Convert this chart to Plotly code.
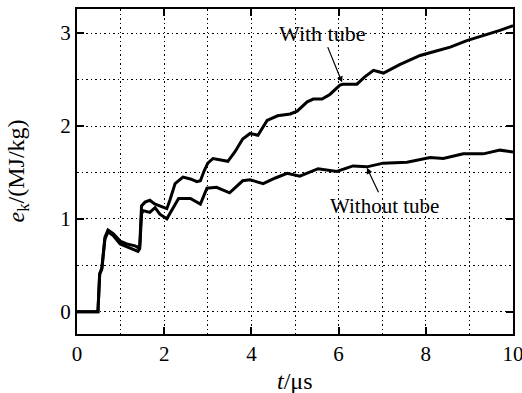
import plotly.graph_objects as go

# Time (µs) and kinetic energy (MJ/kg)
t_with = [0, 0.48, 0.50, 0.52, 0.57, 0.64, 0.71, 0.83, 0.99, 1.14, 1.33, 1.40, 1.44, 1.48,
          1.56, 1.67, 1.78, 1.90, 2.06, 2.13, 2.25, 2.43, 2.60, 2.75, 2.83, 2.92, 3.00, 3.12,
          3.30, 3.46, 3.62, 3.80, 3.97, 4.15, 4.36, 4.60, 4.89, 5.05, 5.28, 5.42, 5.62,
          5.80, 6.03, 6.10, 6.42, 6.60, 6.80, 7.03, 7.40, 7.87, 8.26, 8.56, 8.94, 9.31,
          9.70, 10.0]
e_with = [0, 0, 0.20, 0.41, 0.47, 0.80, 0.88, 0.84, 0.76, 0.73, 0.71, 0.69, 0.72, 1.14,
          1.18, 1.20, 1.16, 1.14, 1.11, 1.20, 1.38, 1.45, 1.43, 1.40, 1.41, 1.52, 1.60, 1.65,
          1.63, 1.62, 1.72, 1.86, 1.92, 1.90, 2.06, 2.11, 2.13, 2.16, 2.26, 2.29, 2.29,
          2.34, 2.44, 2.45, 2.45, 2.53, 2.60, 2.57, 2.66, 2.76, 2.81, 2.85, 2.92, 2.97,
          3.03, 3.08]

t_without = [0, 0.48, 0.50, 0.52, 0.57, 0.64, 0.71, 0.83, 0.99, 1.14, 1.33, 1.40, 1.44, 1.48,
             1.51, 1.67, 1.79, 1.90, 2.06, 2.13, 2.33, 2.60, 2.83, 2.98, 3.20, 3.50, 3.80,
             3.97, 4.27, 4.55, 4.82, 5.11, 5.53, 5.96, 6.33, 6.65, 7.02, 7.57, 8.10, 8.40,
             8.86, 9.32, 9.70, 10.0]
e_without = [0, 0, 0.20, 0.40, 0.46, 0.78, 0.86, 0.82, 0.73, 0.70, 0.67, 0.65, 0.68, 1.05,
             1.09, 1.07, 1.12, 1.05, 1.00, 1.06, 1.22, 1.22, 1.16, 1.33, 1.34, 1.28, 1.41,
             1.42, 1.38, 1.44, 1.49, 1.46, 1.54, 1.51, 1.57, 1.56, 1.60, 1.61, 1.66, 1.65,
             1.70, 1.70, 1.74, 1.72]

x_ticks = [0, 2, 4, 6, 8, 10]
y_ticks = [0, 1, 2, 3]

FONT = "Liberation Serif"
DOT = "1.5px,3px"

fig = go.Figure()
for tx, ey in [(t_with, e_with), (t_without, e_without)]:
    fig.add_trace(go.Scatter(x=tx, y=ey, mode="lines",
                             line=dict(color="black", width=3), showlegend=False))

# labels with arrows (arrow drawn from the label towards the curve)
fig.add_annotation(x=6.08, y=2.47, ax=5.62, ay=3.0, xref="x", yref="y", axref="x", ayref="y",
                   text="With tube", showarrow=True, arrowhead=2, arrowsize=1,
                   arrowwidth=1.2, arrowcolor="black",
                   font=dict(family=FONT, size=22, color="black"))
fig.add_annotation(x=6.65, y=1.55, ax=7.06, ay=1.14, xref="x", yref="y", axref="x", ayref="y",
                   text="Without tube", showarrow=True, arrowhead=2, arrowsize=1,
                   arrowwidth=1.2, arrowcolor="black",
                   font=dict(family=FONT, size=21, color="black"))

# axis titles
fig.add_annotation(x=0, y=0.5, xref="paper", yref="paper", xshift=-60, textangle=-90,
                   text="<i>e</i><sub>k</sub>/(MJ/kg)", showarrow=False,
                   xanchor="center", yanchor="middle",
                   font=dict(family=FONT, size=24, color="black"))
fig.add_annotation(x=0.5, y=0, xref="paper", yref="paper", yshift=-47,
                   text="<i>t</i>/μs", showarrow=False, xanchor="center", yanchor="middle",
                   font=dict(family=FONT, size=24, color="black"))

axis_common = dict(showline=True, linecolor="black", linewidth=2, mirror="ticks",
                   ticks="inside", ticklen=7, tickwidth=2, tickcolor="black",
                   showgrid=True, gridcolor="black", griddash=DOT, gridwidth=1.3,
                   zeroline=False, automargin=False, ticklabeloverflow="allow",
                   tickfont=dict(family=FONT, size=21, color="black"))

fig.update_xaxes(range=[0, 10], tickvals=x_ticks, ticktext=[str(v) for v in x_ticks],
                 minor=dict(dtick=1, tick0=0, showgrid=True, gridcolor="black",
                            griddash=DOT, gridwidth=1.3, ticks=""),
                 **axis_common)
fig.update_yaxes(range=[-0.24, 3.26], tickvals=y_ticks, ticktext=[str(v) for v in y_ticks],
                 minor=dict(dtick=0.5, tick0=0, showgrid=True, gridcolor="black",
                            griddash=DOT, gridwidth=1.3, ticks=""),
                 **axis_common)

fig.update_layout(width=522, height=393, margin=dict(l=77, r=9, t=9, b=59),
                  plot_bgcolor="white", paper_bgcolor="white",
                  font=dict(family=FONT, color="black"))

fig.write_html("out.html")
